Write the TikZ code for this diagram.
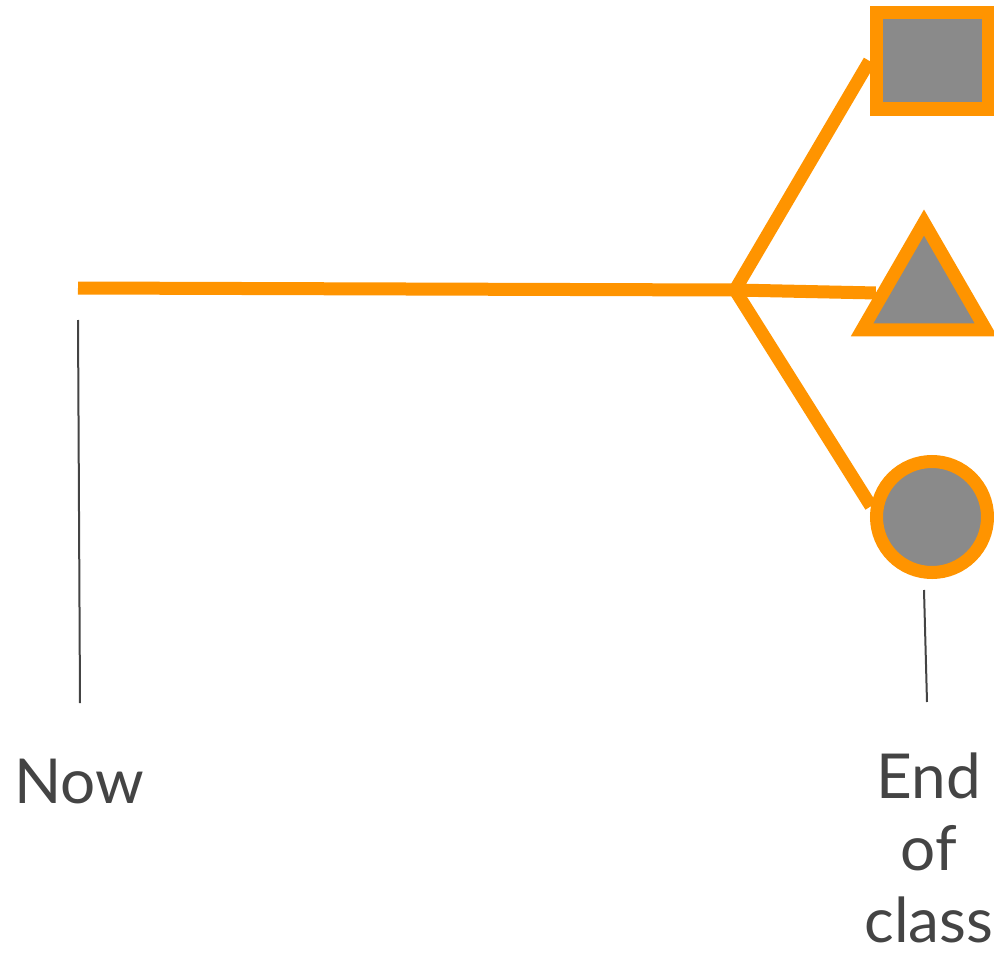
\documentclass[tikz,border=0pt]{standalone}
\usepackage{fontspec}
\setmainfont{Lato}
\usetikzlibrary{shapes.geometric}
\definecolor{branchorange}{HTML}{FF9400}
\definecolor{choicegray}{HTML}{8A8A8A}
\definecolor{inkgray}{HTML}{444444}

\begin{document}
\begin{tikzpicture}[x=1pt, y=-1pt,
  branch/.style={draw=branchorange, line width=13pt},
  choice/.style={branch, fill=choicegray, inner sep=0pt},
  tick/.style={draw=inkgray, line width=2pt},
  label/.style={text=inkgray, font=\fontsize{62}{72}\selectfont, align=center, anchor=base, inner sep=0pt, text depth=0pt}]
  \useasboundingbox (0,0) rectangle (994,958);
  % the path from now to the fork
  \coordinate (start) at (78,288);
  \coordinate (fork) at (735,290);
  % three outcomes at the end of class
  \node[choice, rectangle, minimum width=112pt, minimum height=96pt] (square) at (932,61) {};
  \node[choice, regular polygon, regular polygon sides=3, minimum size=143pt] (triangle) at (924,294) {};
  \node[choice, circle, minimum size=111pt] (disc) at (932,517) {};
  \draw[branch] (start) -- (fork);
  \draw[branch, line join=round] (fork) -- (square.west);
  \draw[branch] (fork) -- (triangle);
  \draw[branch, line join=round] (fork) -- (disc.170);
  % time marks
  \coordinate (nowtop) at (78,320);
  \coordinate (nowbot) at (80,703);
  \coordinate (endtop) at (924,590);
  \coordinate (endbot) at (927,702);
  \draw[tick] (nowtop) -- (nowbot);
  \draw[tick] (endtop) -- (endbot);
  \node[label] (now) at (79,803) {Now};
  \node[label] (end) at (929,942) {End\\of\\class};
\end{tikzpicture}
\end{document}
